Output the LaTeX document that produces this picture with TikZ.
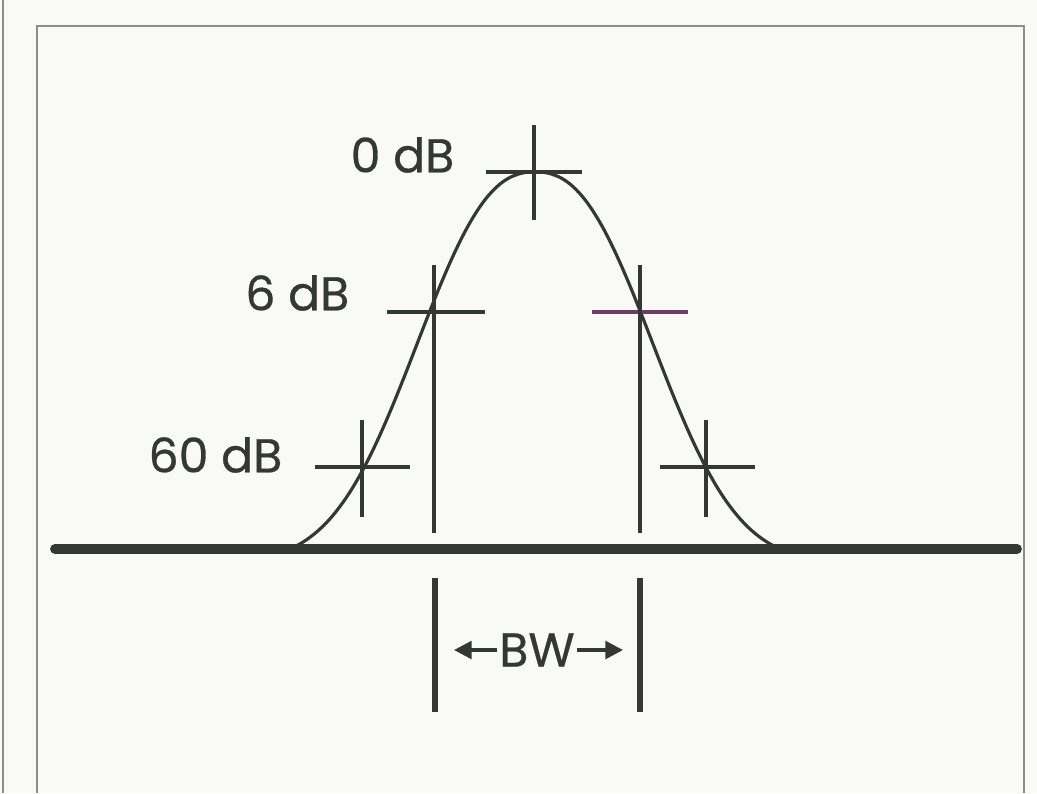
\documentclass[tikz,border=0pt]{standalone}
\usepackage{fontspec}
\setmainfont{Poppins}
\newfontfamily\lblfont{Poppins}[FakeBold=0.6]
\usepackage{xcolor}
\usetikzlibrary{arrows.meta}
\definecolor{ink}{RGB}{52,56,52}
\definecolor{paper}{RGB}{249,250,245}
\definecolor{rulegray}{RGB}{140,142,140}
\definecolor{tint}{RGB}{110,62,98}
\tikzset{
  axis/.style    = {line width=2.8pt, ink, line cap=round},
  trace/.style   = {line width=0.9pt, ink},
  hair/.style    = {line width=0.9pt, ink},
  bwbar/.style   = {line width=1.7pt, ink},
  dblabel/.style = {anchor=east, inner sep=0pt, text=ink,
                    font=\lblfont\fontsize{13.5}{15}\selectfont},
  panel/.style   = {line width=0.7pt, rulegray},
}

\begin{document}
\begin{tikzpicture}[
  bwarrow/.style={line width=1pt, ink, -{Triangle[length=5pt,width=5pt]}}
]
\useasboundingbox (0,0) rectangle (10.37,7.93);
\fill[paper] (0,0) rectangle (10.37,7.93);
% Page edge and panel frame
\draw[panel] (0.03,0) -- (0.03,7.93);
\draw[panel] (0.37,0) -- (0.37,7.67) -- (10.24,7.67) -- (10.24,0);
% Crossing points on the response
\coordinate (p0)   at (5.34,6.21);
\coordinate (p6l)  at (4.34,4.81);
\coordinate (p6r)  at (6.40,4.81);
\coordinate (p60l) at (3.62,3.26);
\coordinate (p60r) at (7.06,3.26);
% Labels
\node[dblabel] (l0)  at (4.55,6.38) {0 dB};
\node[dblabel] (l6)  at (3.50,5.00) {6 dB};
\node[dblabel] (l60) at (2.83,3.38) {60 dB};
% Baseline and response curve
\draw[axis] (0.55,2.44) -- (10.17,2.44);
\draw[trace] plot[domain=-2.45:2.45, samples=90, smooth]
  ({5.35+\x},{2.44+3.77*(exp(-pow(abs(\x)/1.48,2.4))-0.035)/0.965});
% 0 dB cross
\draw[hair] ([xshift=-0.48cm]p0) -- ([xshift=0.48cm]p0);
\draw[hair] ([yshift=0.47cm]p0) -- ([yshift=-0.48cm]p0);
% 6 dB crosses, verticals run down to the baseline
\draw[hair] ([xshift=-0.47cm]p6l) -- ([xshift=0.51cm]p6l);
\draw[hair] ([yshift=0.47cm]p6l) -- ([yshift=-2.21cm]p6l);
\draw[hair, tint] ([xshift=-0.48cm]p6r) -- ([xshift=0.48cm]p6r);
\draw[hair] ([yshift=0.47cm]p6r) -- ([yshift=-2.21cm]p6r);
% 60 dB crosses
\draw[hair] ([xshift=-0.47cm]p60l) -- ([xshift=0.48cm]p60l);
\draw[hair] ([yshift=0.47cm]p60l) -- ([yshift=-0.50cm]p60l);
\draw[hair] ([xshift=-0.46cm]p60r) -- ([xshift=0.49cm]p60r);
\draw[hair] ([yshift=0.47cm]p60r) -- ([yshift=-0.50cm]p60r);
% Bandwidth bars and label
\coordinate (bwlt) at (4.35,2.15);
\coordinate (bwlb) at (4.35,0.81);
\coordinate (bwrt) at (6.40,2.15);
\coordinate (bwrb) at (6.40,0.81);
\draw[bwbar] (bwlt) -- (bwlb);
\draw[bwbar] (bwrt) -- (bwrb);
\node[dblabel, anchor=center] (bw) at (5.37,1.43) {BW};
\coordinate (bwl) at (4.54,1.43);
\coordinate (bwr) at (6.23,1.43);
\draw[bwarrow] ([xshift=-0.5pt]bw.west) -- (bwl);
\draw[bwarrow] ([xshift=0.5pt]bw.east) -- (bwr);
\end{tikzpicture}
\end{document}
